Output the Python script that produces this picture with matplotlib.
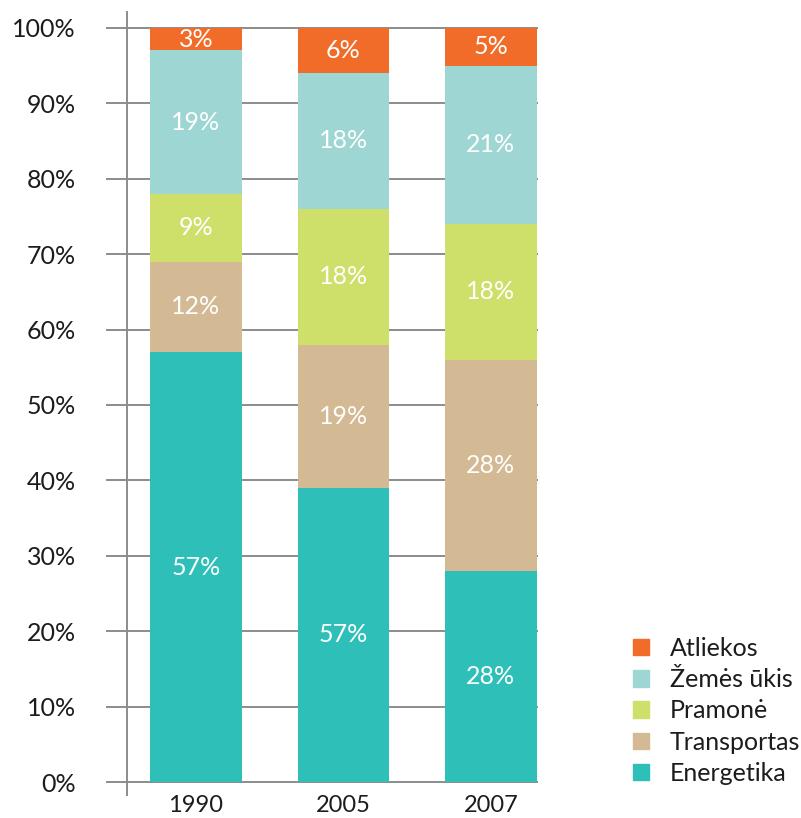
import matplotlib
matplotlib.use("Agg")
import matplotlib.pyplot as plt
from matplotlib.patches import Patch
import numpy as np

plt.rcParams["font.family"] = ["Lato", "DejaVu Sans"]

years = ["1990", "2005", "2007"]
sectors = ["Energetika", "Transportas", "Pramonė", "Žemės ūkis", "Atliekos"]

# bar heights as drawn (percent)
energetika = [57, 39, 28]
transportas = [12, 19, 28]
pramone = [9, 18, 18]
zemes_ukis = [19, 18, 21]
atliekos = [3, 6, 5]

# labels printed on the bars (2005 energetika is labelled 57% in the original)
energetika_lbl = ["57%", "57%", "28%"]
transportas_lbl = ["12%", "19%", "28%"]
pramone_lbl = ["9%", "18%", "18%"]
zemes_ukis_lbl = ["19%", "18%", "21%"]
atliekos_lbl = ["3%", "6%", "5%"]

yticks = list(range(0, 101, 10))

colors = ["#2ebfb8", "#d3b994", "#cedf6a", "#9dd6d3", "#f26c29"]
grid_col = "#8c8c8c"
text_col = "#1c1c1c"


def main() -> None:
    fig = plt.figure(figsize=(8.01, 8.18), dpi=100)
    ax = fig.add_axes([127 / 801, 23 / 818, 411 / 801, 783 / 818])

    x = np.arange(len(years))
    series = [energetika, transportas, pramone, zemes_ukis, atliekos]
    labels = [energetika_lbl, transportas_lbl, pramone_lbl, zemes_ukis_lbl, atliekos_lbl]

    bottom = np.zeros(len(years))
    for vals, lbls, col in zip(series, labels, colors):
        bars = ax.bar(x, vals, 0.62, bottom=bottom, color=col, zorder=2)
        ax.bar_label(bars, labels=lbls, label_type="center", color="white", fontsize=18)
        bottom += np.array(vals)

    ax.set_xlim(-0.468, 2.32)
    ax.set_ylim(-1.72, 102.1)
    ax.set_xticks(x)
    ax.set_xticklabels(years)
    ax.set_yticks(yticks)
    ax.set_yticklabels([f"{t}%" for t in yticks])

    ax.yaxis.grid(True, color=grid_col, linewidth=1.4)
    ax.set_axisbelow(True)
    ax.tick_params(axis="y", length=15, width=1.4, color=grid_col, pad=22,
                   labelsize=18, labelcolor=text_col)
    ax.tick_params(axis="x", length=0, pad=0, labelsize=17, labelcolor=text_col)

    for side in ["top", "right", "bottom"]:
        ax.spines[side].set_visible(False)
    ax.spines["left"].set_color(grid_col)
    ax.spines["left"].set_linewidth(1.4)

    handles = [Patch(color=c, label=s) for c, s in zip(colors, sectors)][::-1]
    fig.legend(
        handles=handles,
        loc="upper left",
        bbox_to_anchor=(633 / 801, 1 - 637 / 818),
        frameon=False,
        fontsize=18,
        handlelength=0.64,
        handleheight=0.64,
        handletextpad=0.84,
        labelspacing=0.33,
        borderpad=0,
        borderaxespad=0,
        labelcolor=text_col,
    )

    fig.savefig("out.png", dpi=100)
    plt.close(fig)


if __name__ == "__main__":
    main()
